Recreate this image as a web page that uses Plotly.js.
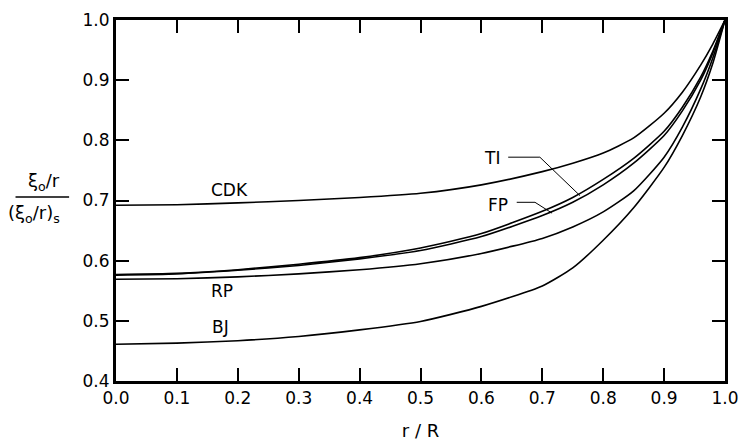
<!DOCTYPE html>
<html>
<head>
<meta charset="utf-8">
<script src="https://cdn.plot.ly/plotly-3.0.1.min.js"></script>
<style>html,body{margin:0;padding:0;background:#fff;}#chart{width:741px;height:441px;}</style>
</head>
<body>
<div id="chart"></div>
<script>
// r / R sample positions
var rR = [0, 0.1, 0.2, 0.3, 0.4, 0.5, 0.6, 0.7, 0.75, 0.8, 0.85, 0.9, 0.93, 0.96, 0.98, 1.0];
// normalized values
var CDK = [0.692, 0.693, 0.696, 0.700, 0.705, 0.712, 0.726, 0.748, 0.762, 0.779, 0.804, 0.845, 0.880, 0.925, 0.960, 1.0];
var TI  = [0.577, 0.579, 0.585, 0.594, 0.605, 0.621, 0.645, 0.682, 0.705, 0.735, 0.770, 0.815, 0.855, 0.905, 0.948, 1.0];
var FP  = [0.576, 0.578, 0.584, 0.592, 0.603, 0.617, 0.640, 0.675, 0.697, 0.726, 0.762, 0.808, 0.849, 0.900, 0.945, 1.0];
var RP  = [0.569, 0.570, 0.573, 0.578, 0.585, 0.595, 0.612, 0.637, 0.656, 0.681, 0.716, 0.772, 0.822, 0.885, 0.937, 1.0];
var BJ  = [0.461, 0.463, 0.467, 0.474, 0.485, 0.499, 0.524, 0.558, 0.588, 0.634, 0.688, 0.755, 0.808, 0.872, 0.928, 1.0];

var xTicks = [0, 0.1, 0.2, 0.3, 0.4, 0.5, 0.6, 0.7, 0.8, 0.9, 1.0];
var xTickText = ["0.0", "0.1", "0.2", "0.3", "0.4", "0.5", "0.6", "0.7", "0.8", "0.9", "1.0"];
var yTicks = [0.4, 0.5, 0.6, 0.7, 0.8, 0.9, 1.0];
var yTickText = ["0.4", "0.5", "0.6", "0.7", "0.8", "0.9", "1.0"];

var curveNames = ["CDK", "TI", "FP", "RP", "BJ"];
var curveData = [CDK, TI, FP, RP, BJ];

var traces = curveData.map(function (ys, i) {
  return {
    x: rR, y: ys, name: curveNames[i], type: "scatter", mode: "lines",
    line: {color: "#000", width: 1.6, shape: "spline", smoothing: 0.6},
    hoverinfo: "skip"
  };
});

var FONT = "DejaVu Sans, Liberation Sans, sans-serif";
var lblFont = {family: FONT, size: 17, color: "#000"};

function lbl(x, y, t) {
  return {x: x, y: y, xref: "x", yref: "y", text: t, showarrow: false,
          xanchor: "center", yanchor: "middle", font: lblFont};
}

var layout = {
  width: 741, height: 441,
  margin: {l: 116, r: 16, t: 20, b: 60},
  paper_bgcolor: "#fff", plot_bgcolor: "#fff",
  showlegend: false,
  font: {family: FONT, color: "#000"},
  xaxis: {
    range: [0, 1], tickvals: xTicks, ticktext: xTickText,
    ticks: "inside", ticklen: 13, tickwidth: 2, tickcolor: "#000",
    showline: true, linewidth: 3, linecolor: "#000", mirror: "ticks",
    showgrid: false, zeroline: false,
    tickfont: {family: FONT, size: 17, color: "#000"},
    title: {text: "r / R", font: {family: FONT, size: 18, color: "#000"}, standoff: 18}
  },
  yaxis: {
    range: [0.4, 1.0], tickvals: yTicks, ticktext: yTickText,
    ticks: "inside", ticklen: 13, tickwidth: 2, tickcolor: "#000",
    showline: true, linewidth: 3, linecolor: "#000", mirror: "ticks",
    showgrid: false, zeroline: false,
    tickfont: {family: FONT, size: 17, color: "#000"}
  },
  annotations: [
    lbl(0.187, 0.718, "CDK"),
    lbl(0.174, 0.550, "RP"),
    lbl(0.172, 0.490, "BJ"),
    lbl(0.618, 0.770, "TI"),
    lbl(0.628, 0.693, "FP"),
    {x: -0.118, y: 0.552, xref: "paper", yref: "paper", text: "ξ<sub>o</sub>/r", showarrow: false,
     xanchor: "center", yanchor: "middle", font: {family: FONT, size: 18, color: "#000"}},
    {x: -0.135, y: 0.462, xref: "paper", yref: "paper", text: "(ξ<sub>o</sub>/r)<sub>s</sub>", showarrow: false,
     xanchor: "center", yanchor: "middle", font: {family: FONT, size: 18, color: "#000"}}
  ],
  shapes: [
    {type: "line", xref: "paper", yref: "paper", x0: -0.165, x1: -0.077, y0: 0.51, y1: 0.51,
     line: {color: "#000", width: 1.5}},
    {type: "path", xref: "x", yref: "y", path: "M 0.644 0.772 L 0.696 0.772 L 0.762 0.708",
     line: {color: "#000", width: 1}},
    {type: "path", xref: "x", yref: "y", path: "M 0.658 0.697 L 0.688 0.697 L 0.716 0.679",
     line: {color: "#000", width: 1}}
  ]
};

Plotly.newPlot("chart", traces, layout, {staticPlot: true, displayModeBar: false});
</script>
</body>
</html>
